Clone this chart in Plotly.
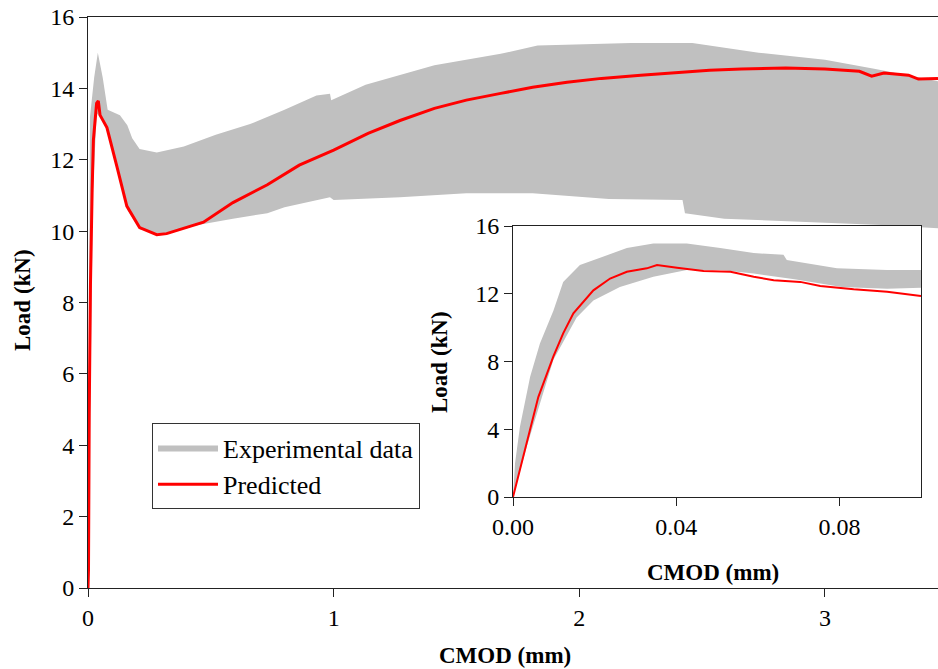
import plotly.graph_objects as go

# main plot: CMOD (mm) vs Load (kN)
exp_low_x = [0, 0.02, 0.035, 0.05, 0.08, 0.12, 0.16, 0.21, 0.28, 0.32, 0.40, 0.47, 0.59, 0.73,
             0.80, 0.985, 1.0, 1.27, 1.54, 1.81, 2.12, 2.42, 2.43, 2.59, 2.93, 3.23, 3.46]
exp_low_y = [0, 11.0, 13.3, 13.2, 12.8, 11.7, 10.6, 10.05, 9.95, 9.95, 10.1, 10.2, 10.35, 10.5,
             10.67, 10.95, 10.87, 10.95, 11.06, 11.06, 10.9, 10.87, 10.5, 10.35, 10.25, 10.17, 10.08]
exp_up_x = [0, 0.004, 0.008, 0.025, 0.04, 0.06, 0.08, 0.13, 0.16, 0.18, 0.21, 0.28, 0.39, 0.52,
            0.66, 0.80, 0.93, 0.985, 0.99, 1.13, 1.41, 1.68, 1.83, 2.21, 2.46, 2.73, 3.0, 3.2, 3.46]
exp_up_y = [0, 8, 13.2, 14.3, 15.0, 14.3, 13.4, 13.25, 12.97, 12.6, 12.3, 12.2, 12.37, 12.7,
            13.0, 13.4, 13.8, 13.85, 13.67, 14.1, 14.65, 14.97, 15.2, 15.27, 15.27, 15.0, 14.8, 14.55, 14.2]
pred_x = [0, 0.002, 0.005, 0.01, 0.017, 0.022, 0.035, 0.042, 0.049, 0.077, 0.118, 0.158, 0.21,
          0.28, 0.32, 0.40, 0.47, 0.59, 0.73, 0.86, 1.0, 1.14, 1.27, 1.41, 1.54, 1.68, 1.81, 1.95,
          2.09, 2.25, 2.39, 2.53, 2.66, 2.84, 3.0, 3.14, 3.19, 3.24, 3.34, 3.38, 3.46]
pred_y = [0, 0.5, 4.9, 8.5, 11.2, 12.55, 13.58, 13.65, 13.25, 12.9, 11.8, 10.7, 10.1,
          9.9, 9.93, 10.1, 10.25, 10.8, 11.3, 11.85, 12.27, 12.74, 13.1, 13.44, 13.67, 13.86, 14.03, 14.17,
          14.28, 14.37, 14.45, 14.51, 14.54, 14.57, 14.54, 14.48, 14.34, 14.43, 14.37, 14.26, 14.28]

# inset: first 0.1 mm
ins_low_x = [0, 0.0034, 0.0099, 0.0156, 0.0197, 0.0262, 0.0344, 0.0426, 0.0508, 0.059, 0.069, 0.0806, 0.0917, 0.1]
ins_low_y = [0, 3.0, 8.1, 10.6, 11.6, 12.4, 13.0, 13.4, 13.4, 13.2, 12.85, 12.4, 12.3, 12.35]
ins_up_x = [0, 0.0005, 0.0017, 0.0042, 0.0066, 0.0099, 0.0123, 0.0164, 0.0222, 0.0279, 0.0344,
            0.0426, 0.0508, 0.059, 0.0663, 0.0671, 0.0794, 0.0917, 0.1]
ins_up_y = [0, 2.0, 4.15, 7.1, 9.07, 11.0, 12.7, 13.7, 14.2, 14.7, 14.97,
            14.97, 14.7, 14.4, 14.3, 14.0, 13.5, 13.4, 13.4]
ins_pred_x = [0, 0.0034, 0.0062, 0.0099, 0.0123, 0.0148, 0.0173, 0.0197, 0.0238, 0.0279, 0.0328,
              0.0353, 0.0402, 0.0467, 0.0533, 0.059, 0.0639, 0.0704, 0.0753, 0.0835, 0.0917, 0.1]
ins_pred_y = [0, 3.2, 5.9, 8.3, 9.66, 10.84, 11.53, 12.2, 12.9, 13.3, 13.5,
              13.7, 13.54, 13.34, 13.3, 13.0, 12.8, 12.7, 12.46, 12.26, 12.12, 11.87]

GRAY = '#c0c0c0'
RED = '#ff0000'
FONT = 'Liberation Serif'
W, H = 938, 669

fig = go.Figure()

fig.add_trace(go.Scatter(x=exp_low_x, y=exp_low_y, mode='lines', line=dict(width=0, color=GRAY),
                         showlegend=False, hoverinfo='skip'))
fig.add_trace(go.Scatter(x=exp_up_x, y=exp_up_y, mode='lines', line=dict(width=0, color=GRAY),
                         fill='tonexty', fillcolor=GRAY, name='Experimental data'))
fig.add_trace(go.Scatter(x=pred_x, y=pred_y, mode='lines', line=dict(width=3, color=RED),
                         name='Predicted'))

fig.add_trace(go.Scatter(x=ins_low_x, y=ins_low_y, xaxis='x2', yaxis='y2', mode='lines',
                         line=dict(width=0, color=GRAY), showlegend=False, hoverinfo='skip'))
fig.add_trace(go.Scatter(x=ins_up_x, y=ins_up_y, xaxis='x2', yaxis='y2', mode='lines',
                         line=dict(width=0, color=GRAY), fill='tonexty', fillcolor=GRAY,
                         showlegend=False))
fig.add_trace(go.Scatter(x=ins_pred_x, y=ins_pred_y, xaxis='x2', yaxis='y2', mode='lines',
                         line=dict(width=2, color=RED), showlegend=False))

tickfont = dict(family=FONT, size=24, color='black')
axis_common = dict(showgrid=False, zeroline=False, ticks='outside', ticklen=8, tickwidth=1,
                   tickcolor='#222', linecolor='#222', linewidth=1, tickfont=tickfont,
                   automargin=False)

fig.update_layout(
    width=W, height=H,
    margin=dict(l=0, r=0, t=0, b=0),
    paper_bgcolor='white', plot_bgcolor='white',
    font=dict(family=FONT, color='black'),
    xaxis=dict(domain=[88 / W, 1], range=[0, 3.46], tickvals=[0, 1, 2, 3],
               mirror=True, **axis_common),
    yaxis=dict(domain=[(H - 588) / H, (H - 17) / H], range=[0, 16], tickvals=list(range(0, 17, 2)),
               **axis_common),
    xaxis2=dict(domain=[513 / W, 921 / W], range=[0, 0.1], tickvals=[0, 0.04, 0.08],
                tickformat='.2f', anchor='y2', mirror=True, **axis_common),
    yaxis2=dict(domain=[(H - 497) / H, (H - 226) / H], range=[0, 16], tickvals=[0, 4, 8, 12, 16],
                anchor='x2', mirror=True, **axis_common),
    legend=dict(x=152 / W, y=(H - 423) / H, xanchor='left', yanchor='top',
                bordercolor='#333', borderwidth=1, bgcolor='white', traceorder='normal',
                itemwidth=60, entrywidth=270, entrywidthmode='pixels',
                font=dict(family=FONT, size=26, color='black'), tracegroupgap=0),
    showlegend=True,
)

title_font = dict(family=FONT, size=23, color='black')
annots = [
    dict(text='<b>CMOD (mm)</b>', x=505 / W, y=(H - 655) / H),
    dict(text='<b>Load (kN)</b>', x=22 / W, y=(H - 300) / H, textangle=-90),
    dict(text='<b>CMOD (mm)</b>', x=713 / W, y=(H - 572) / H),
    dict(text='<b>Load (kN)</b>', x=440 / W, y=(H - 362) / H, textangle=-90),
]
for a in annots:
    fig.add_annotation(xref='paper', yref='paper', showarrow=False, xanchor='center',
                       yanchor='middle', font=title_font, **a)

fig.write_html("out.html", config={'displayModeBar': False},
               post_script="document.body.style.margin='0';")
